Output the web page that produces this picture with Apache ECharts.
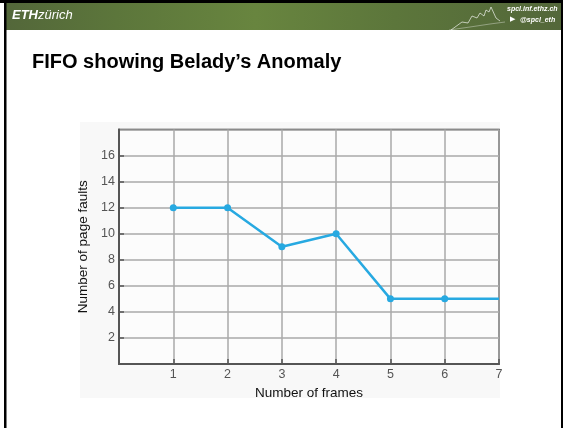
<!DOCTYPE html>
<html>
<head>
<meta charset="utf-8">
<script src="https://cdn.jsdelivr.net/npm/echarts@6/dist/echarts.min.js"></script>
<style>
  html, body { margin: 0; padding: 0; background: #fff; }
  #chart { width: 563px; height: 428px; }
</style>
</head>
<body>
<div id="chart"></div>
<script>
// number of frames vs page faults (FIFO)
var frames = [1, 2, 3, 4, 5, 6, 7];
var faults = [12, 12, 9, 10, 5, 5, 5];

var slideTitle = 'FIFO showing Belady\u2019s Anomaly';
var xName = 'Number of frames';
var yName = 'Number of page faults';

var points = frames.map(function (f, i) {
    return {
        value: [f, faults[i]],
        symbol: i === frames.length - 1 ? 'none' : 'circle'
    };
});

var chart = echarts.init(document.getElementById('chart'));

chart.setOption({
    animation: false,
    backgroundColor: '#fff',
    title: {
        text: slideTitle,
        left: 27,
        top: 47,
        textStyle: {
            fontFamily: 'Liberation Sans, Arial, sans-serif',
            fontSize: 20,
            fontWeight: 'bold',
            color: '#000'
        }
    },
    graphic: [
        // faint background of the pasted figure
        { type: 'rect', z: -10, shape: { x: 80, y: 122, width: 420, height: 276 }, style: { fill: '#f8f8f8' } },
        // header band
        {
            type: 'rect', z: 10,
            shape: { x: 5, y: 2, width: 557, height: 28 },
            style: {
                fill: new echarts.graphic.LinearGradient(0, 0, 1, 0, [
                    { offset: 0, color: '#53673a' },
                    { offset: 0.2, color: '#5c763b' },
                    { offset: 0.45, color: '#68853f' },
                    { offset: 0.7, color: '#5c763b' },
                    { offset: 1, color: '#53673a' }
                ])
            }
        },
        { type: 'rect', z: 11, shape: { x: 0, y: 0, width: 563, height: 3 }, style: { fill: '#000' } },
        // slide frame
        { type: 'rect', z: 11, shape: { x: 4, y: 0, width: 2.5, height: 428 }, style: { fill: '#000' } },
        { type: 'rect', z: 11, shape: { x: 561, y: 0, width: 2, height: 428 }, style: { fill: '#000' } },
        {
            type: 'text', z: 12, left: 12, top: 9,
            style: { text: 'ETH', fill: '#fff', font: 'italic bold 13px Liberation Sans, Arial, sans-serif' }
        },
        {
            type: 'text', z: 12, left: 38, top: 9,
            style: { text: 'zürich', fill: '#fff', font: 'italic 13px Liberation Sans, Arial, sans-serif' }
        },
        {
            type: 'text', z: 12, left: 507, top: 6,
            style: { text: 'spcl.inf.ethz.ch', fill: '#fff', font: 'italic bold 7px Liberation Sans, Arial, sans-serif' }
        },
        {
            type: 'text', z: 12, left: 520, top: 17,
            style: { text: '@spcl_eth', fill: '#fff', font: 'italic bold 7px Liberation Sans, Arial, sans-serif' }
        },
        {
            type: 'text', z: 12, left: 510, top: 16,
            style: { text: '\u25B6', fill: '#fff', font: 'bold 7px DejaVu Sans, sans-serif' }
        },
        {
            type: 'polyline', z: 12,
            shape: { points: [[451, 30], [462, 22], [468, 23], [472, 16], [477, 18], [480, 13], [484, 16], [486, 10], [489, 12], [491, 7], [496, 18], [500, 21]] },
            style: { stroke: 'rgba(255,255,255,0.8)', lineWidth: 0.8, fill: 'none' }
        },
        {
            type: 'polyline', z: 12,
            shape: { points: [[449, 30], [470, 27], [490, 24], [505, 22]] },
            style: { stroke: 'rgba(255,255,255,0.6)', lineWidth: 0.6, fill: 'none' }
        }
    ],
    grid: {
        left: 119,
        right: 64,
        top: 129.5,
        bottom: 64,
        show: true,
        backgroundColor: '#fcfcfc',
        borderColor: '#333',
        borderWidth: 1.5
    },
    xAxis: {
        type: 'value',
        min: 0,
        max: 7,
        interval: 1,
        name: xName,
        nameLocation: 'middle',
        nameGap: 18,
        nameTextStyle: { fontFamily: 'Liberation Sans, Arial, sans-serif', fontSize: 13.5, color: '#111' },
        axisLine: { lineStyle: { color: '#555', width: 2 } },
        axisTick: { inside: true, length: 5, lineStyle: { color: '#555', width: 1.5 } },
        axisLabel: {
            showMinLabel: false,
            margin: 4,
            fontFamily: 'Liberation Sans, Arial, sans-serif',
            fontSize: 12.5,
            color: '#555'
        },
        splitLine: { lineStyle: { color: '#aaa', width: 1.5 } }
    },
    yAxis: {
        type: 'value',
        min: 0,
        max: 18,
        interval: 2,
        name: yName,
        nameLocation: 'middle',
        nameGap: 29,
        nameTextStyle: { fontFamily: 'Liberation Sans, Arial, sans-serif', fontSize: 13.5, color: '#111' },
        axisLine: { lineStyle: { color: '#555', width: 2 } },
        axisTick: { inside: true, length: 5, lineStyle: { color: '#555', width: 1.5 } },
        axisLabel: {
            showMinLabel: false,
            showMaxLabel: false,
            margin: 4,
            fontFamily: 'Liberation Sans, Arial, sans-serif',
            fontSize: 12.5,
            color: '#555'
        },
        splitLine: { lineStyle: { color: '#aaa', width: 1.5 } }
    },
    series: [{
        type: 'line',
        data: points,
        symbolSize: 7,
        lineStyle: { color: '#27a9e1', width: 2.5 },
        itemStyle: { color: '#27a9e1' },
        clip: false
    }]
});
</script>
</body>
</html>
